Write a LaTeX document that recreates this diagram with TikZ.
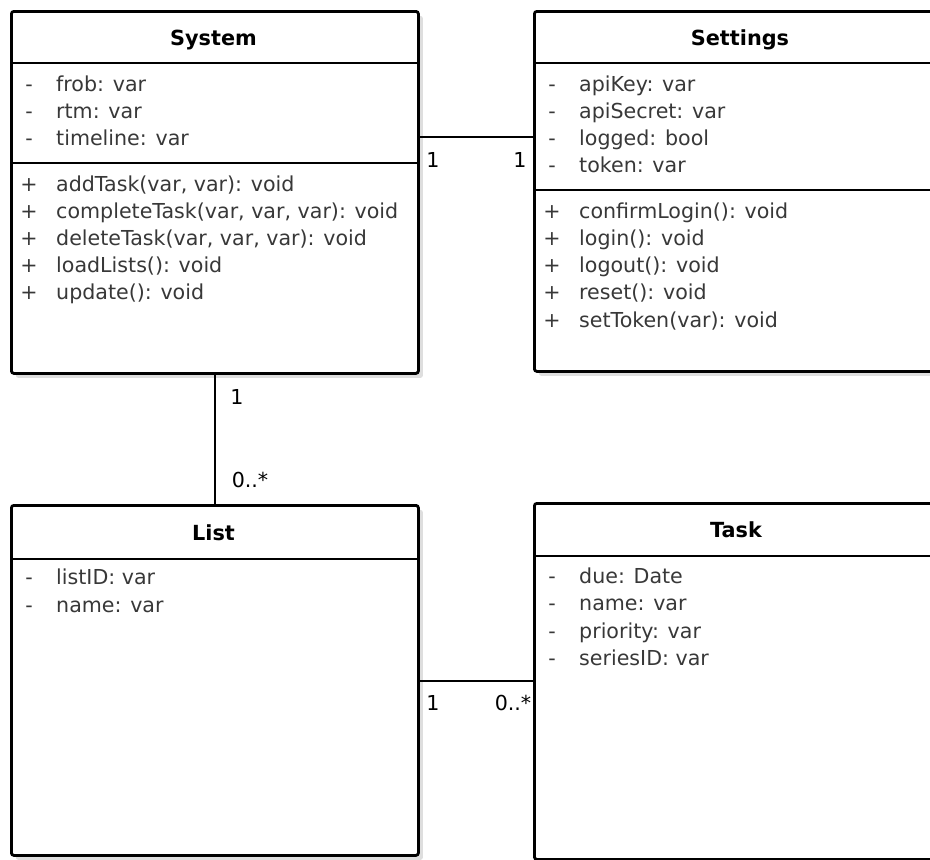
\documentclass[tikz,border=0pt]{standalone}
\usepackage{fontspec}
\setmainfont{DejaVu Sans}
\usetikzlibrary{shadows,calc}
\definecolor{txt}{HTML}{383838}
\tikzset{
  umlbox/.style={draw=black, line width=2.8pt, rounded corners=2.5pt, fill=white,
    anchor=north west, inner sep=0pt, minimum width=407pt,
    drop shadow={shadow xshift=4.5pt, shadow yshift=-4.5pt, fill=black!13, opacity=1}},
  titletext/.style={font=\fontsize{20.8}{25}\selectfont\bfseries, text=black, inner sep=0pt},
  rowtext/.style={font=\fontsize{20.6}{25}\selectfont, text=txt, anchor=base west, inner sep=0pt},
  vismark/.style={font=\fontsize{20.6}{25}\selectfont, text=txt, anchor=base, inner sep=0pt},
  divider/.style={line width=2.1pt},
  assoc/.style={line width=1.8pt},
  multlabel/.style={font=\fontsize{20.6}{25}\selectfont, text=black, inner sep=0pt},
}
\begin{document}
\begin{tikzpicture}[x=1pt, y=-1pt]
\useasboundingbox (0,0) rectangle (930,860);
\clip (0,0) rectangle (930,860);

% boxes
\node[umlbox, minimum height=362pt] (sys) at (10,10) {};
\node[umlbox, minimum height=360pt] (set) at (533,10) {};
\node[umlbox, minimum height=350pt] (lst) at (10,504) {};
\node[umlbox, minimum height=356pt] (tsk) at (533,502) {};

% dividers
\draw[divider] (10,63) -- (417,63);
\draw[divider] (10,163) -- (417,163);
\draw[divider] (533,63) -- (940,63);
\draw[divider] (533,190) -- (940,190);
\draw[divider] (10,559) -- (417,559);
\draw[divider] (533,556) -- (940,556);

% titles
\node[titletext] (sysT) at (213.5,40) {System};
\node[titletext] (setT) at (740,40) {Settings};
\node[titletext] (lstT) at (213.5,533) {List};
\node[titletext] (tskT) at (736,530) {Task};

% System attributes
\node[vismark] (s1m) at (29,91.5) {-};  \node[rowtext] (s1) at (56,91.5) {frob: var};
\node[vismark] (s2m) at (29,118.5) {-}; \node[rowtext] (s2) at (56,118.5) {rtm: var};
\node[vismark] (s3m) at (29,145.5) {-}; \node[rowtext] (s3) at (56,145.5) {timeline: var};
% System methods
\node[vismark] (s4m) at (29,191.5) {+}; \node[rowtext] (s4) at (56,191.5) {addTask(var, var): void};
\node[vismark] (s5m) at (29,218.5) {+}; \node[rowtext] (s5) at (56,218.5) {completeTask(var, var, var): void};
\node[vismark] (s6m) at (29,245.5) {+}; \node[rowtext] (s6) at (56,245.5) {deleteTask(var, var, var): void};
\node[vismark] (s7m) at (29,272.5) {+}; \node[rowtext] (s7) at (56,272.5) {loadLists(): void};
\node[vismark] (s8m) at (29,299.5) {+}; \node[rowtext] (s8) at (56,299.5) {update(): void};

% Settings attributes
\node[vismark] (t1m) at (552,91.5) {-};  \node[rowtext] (t1) at (579,91.5) {apiKey: var};
\node[vismark] (t2m) at (552,118.5) {-}; \node[rowtext] (t2) at (579,118.5) {apiSecret: var};
\node[vismark] (t3m) at (552,145.5) {-}; \node[rowtext] (t3) at (579,145.5) {logged: bool};
\node[vismark] (t4m) at (552,172.5) {-}; \node[rowtext] (t4) at (579,172.5) {token: var};
% Settings methods
\node[vismark] (t5m) at (552,218.5) {+}; \node[rowtext] (t5) at (579,218.5) {confirmLogin(): void};
\node[vismark] (t6m) at (552,245.5) {+}; \node[rowtext] (t6) at (579,245.5) {login(): void};
\node[vismark] (t7m) at (552,272.5) {+}; \node[rowtext] (t7) at (579,272.5) {logout(): void};
\node[vismark] (t8m) at (552,299.5) {+}; \node[rowtext] (t8) at (579,299.5) {reset(): void};
\node[vismark] (t9m) at (552,327) {+}; \node[rowtext] (t9) at (579,327) {setToken(var): void};

% List attributes
\node[vismark] (l1m) at (29,584.5) {-}; \node[rowtext] (l1) at (56,584.5) {listID: var};
\node[vismark] (l2m) at (29,612) {-}; \node[rowtext] (l2) at (56,612) {name: var};

% Task attributes
\node[vismark] (k1m) at (552,583.5) {-}; \node[rowtext] (k1) at (579,583.5) {due: Date};
\node[vismark] (k2m) at (552,610.5) {-}; \node[rowtext] (k2) at (579,610.5) {name: var};
\node[vismark] (k3m) at (552,638) {-}; \node[rowtext] (k3) at (579,638) {priority: var};
\node[vismark] (k4m) at (552,665) {-}; \node[rowtext] (k4) at (579,665) {seriesID: var};

% connectors
\coordinate (c1) at ($(sys.north east)+(0,127)$);
\draw[assoc] (c1) -- (c1 -| set.west);
\coordinate (c3) at ($(lst.north east)+(0,177)$);
\draw[assoc] (c3) -- (c3 -| tsk.west);
\draw[assoc] (sys.south) -- (lst.north);

% multiplicities
\node[multlabel] (m1) at (433,160) {1};
\node[multlabel] (m2) at (520,160) {1};
\node[multlabel] (m3) at (237,397) {1};
\node[multlabel] (m4) at (250,480) {0..*};
\node[multlabel] (m5) at (433,703) {1};
\node[multlabel] (m6) at (513,703) {0..*};
\end{tikzpicture}
\end{document}
